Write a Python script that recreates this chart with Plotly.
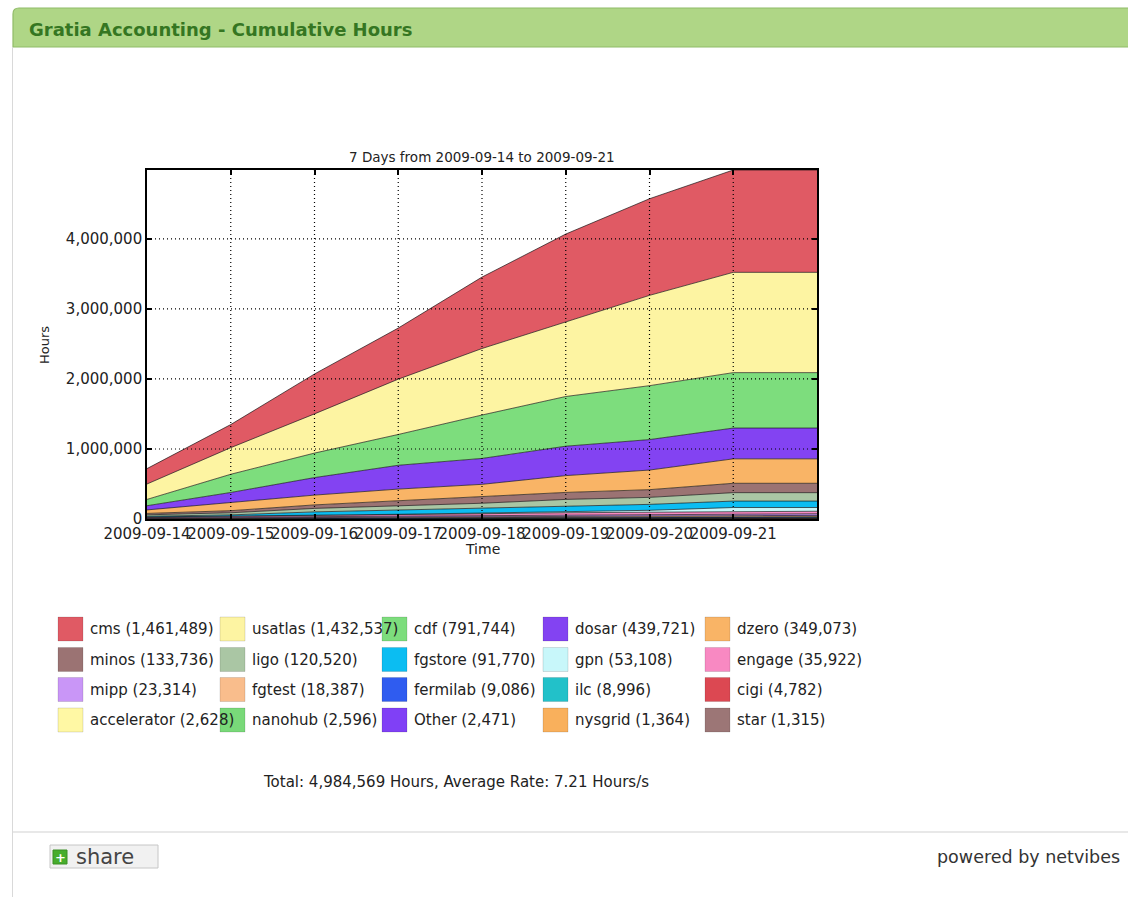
import plotly.graph_objects as go

W, H = 1128, 897

# ---------------- data ----------------
dates = ["2009-09-14", "2009-09-15", "2009-09-16", "2009-09-17", "2009-09-18",
         "2009-09-19", "2009-09-20", "2009-09-21", "2009-09-22"]
tick_dates = dates[:8]
y_ticks = [0, 1000000, 2000000, 3000000, 4000000]

names = ["cms", "usatlas", "cdf", "dosar", "dzero",
         "minos", "ligo", "fgstore", "gpn", "engage",
         "mipp", "fgtest", "fermilab", "ilc", "cigi",
         "accelerator", "nanohub", "Other", "nysgrid", "star"]
totals = [1461489, 1432537, 791744, 439721, 349073,
          133736, 120520, 91770, 53108, 35922,
          23314, 18387, 9086, 8996, 4782,
          2628, 2596, 2471, 1364, 1315]
colors = ["#e05a64", "#fdf4a2", "#7ddd7d", "#8343f2", "#f9b466",
          "#9b7373", "#aac6a4", "#0bbdf2", "#c8f7fa", "#f889c2",
          "#c996f7", "#f9bd8c", "#2f5cf0", "#22c1c9", "#dc4852",
          "#fff8a4", "#79d979", "#8040f6", "#f9b05c", "#9c7676"]

cms = [220000, 330000, 570000, 730000, 1020000, 1250000, 1380000, 1461489, 1461489]
usatlas = [220000, 380000, 560000, 790000, 950000, 1070000, 1290000, 1432537, 1432537]
cdf = [90000, 260000, 350000, 440000, 620000, 710000, 770000, 791744, 791744]
dosar = [60000, 140000, 250000, 340000, 370000, 420000, 435000, 439721, 439721]
dzero = [50000, 120000, 140000, 170000, 180000, 240000, 280000, 349073, 349073]
minos = [20000, 30000, 50000, 70000, 90000, 100000, 110000, 133736, 133736]
ligo = [20000, 30000, 50000, 60000, 70000, 90000, 100000, 120520, 120520]
fgstore = [10000, 20000, 50000, 60000, 70000, 80000, 85000, 91770, 91770]
gpn = [0, 0, 2000, 5000, 10000, 20000, 25000, 53108, 53108]
engage = [10000, 12000, 15000, 20000, 25000, 30000, 32000, 35922, 35922]
mipp = [8000, 10000, 12000, 14000, 16000, 20000, 22000, 23314, 23314]
fgtest = [5000, 6000, 8000, 10000, 12000, 14000, 16000, 18387, 18387]
fermilab = [2000, 3000, 4000, 5000, 6000, 7000, 8000, 9086, 9086]
ilc = [2000, 3000, 4000, 5000, 6000, 7000, 8000, 8996, 8996]
cigi = [1000, 1500, 2000, 2500, 3000, 3500, 4000, 4782, 4782]
accelerator = [500, 1000, 1200, 1500, 1800, 2000, 2300, 2628, 2628]
nanohub = [400, 800, 1000, 1400, 1700, 2000, 2200, 2596, 2596]
other = [400, 800, 1000, 1300, 1600, 1900, 2200, 2471, 2471]
nysgrid = [200, 400, 600, 800, 1000, 1100, 1200, 1364, 1364]
star = [200, 400, 600, 800, 1000, 1100, 1200, 1315, 1315]

series = [cms, usatlas, cdf, dosar, dzero, minos, ligo, fgstore, gpn, engage,
          mipp, fgtest, fermilab, ilc, cigi, accelerator, nanohub, other, nysgrid, star]

TOTAL_HOURS = 4984569
AVG_RATE = 7.21

# ---------------- helpers (pixel -> paper) ----------------
def fx(px):
    return px / W

def fy(py):
    return 1 - py / H

PL, PR, PT, PB = 147, 817, 170, 519
FONT = "DejaVu Sans"

fig = go.Figure()

# stacked areas: bottom first (star) ... top last (cms)
for name, vals, col in reversed(list(zip(names, series, colors))):
    fig.add_trace(go.Scatter(
        x=dates, y=vals, name=name, mode="lines", stackgroup="one",
        fillcolor=col, line=dict(color="rgba(20,20,20,0.85)", width=0.8),
        showlegend=False, hoverinfo="x+y+name"))

shapes = []
annotations = []

# dotted grid above the areas
for d in tick_dates[1:]:
    shapes.append(dict(type="line", xref="x", yref="y domain", x0=d, x1=d, y0=0, y1=1,
                       line=dict(color="black", width=1.2, dash="1px,3px"), layer="above"))
for v in y_ticks[1:]:
    shapes.append(dict(type="line", xref="x domain", yref="y", x0=0, x1=1, y0=v, y1=v,
                       line=dict(color="black", width=1.2, dash="1px,3px"), layer="above"))

# ---- page chrome: header bar ----
r = 6
hx0, hx1, hy0, hy1 = 13, 1132, 8, 47
path = (f"M {fx(hx0)},{fy(hy1)} L {fx(hx0)},{fy(hy0 + r)} "
        f"Q {fx(hx0)},{fy(hy0)} {fx(hx0 + r)},{fy(hy0)} "
        f"L {fx(hx1)},{fy(hy0)} L {fx(hx1)},{fy(hy1)} Z")
shapes.append(dict(type="path", xref="paper", yref="paper", path=path,
                   fillcolor="#afd686", line=dict(color="#90bb68", width=1.2), layer="below"))
annotations.append(dict(x=fx(27), y=fy(30), xref="paper", yref="paper", xanchor="left",
                        yanchor="middle", showarrow=False,
                        text="<b>Gratia Accounting - Cumulative Hours</b>",
                        font=dict(family=FONT, size=18, color="#357622")))
# widget left border
shapes.append(dict(type="line", xref="paper", yref="paper", x0=fx(12.5), x1=fx(12.5),
                   y0=fy(47), y1=fy(897), line=dict(color="#d9d9d9", width=1), layer="below"))
# separator
shapes.append(dict(type="line", xref="paper", yref="paper", x0=fx(13), x1=fx(1128),
                   y0=fy(832), y1=fy(832), line=dict(color="#e8e8e8", width=2), layer="below"))

# share button
shapes.append(dict(type="rect", xref="paper", yref="paper", x0=fx(50), x1=fx(158),
                   y0=fy(868), y1=fy(845), fillcolor="#f1f1f1",
                   line=dict(color="#c6c6c6", width=1), layer="below"))
shapes.append(dict(type="rect", xref="paper", yref="paper", x0=fx(53), x1=fx(67),
                   y0=fy(864), y1=fy(850), fillcolor="#47ad2c",
                   line=dict(color="#3a8f24", width=1), layer="below"))
annotations.append(dict(x=fx(60), y=fy(857), xref="paper", yref="paper", showarrow=False,
                        xanchor="center", yanchor="middle", text="<b>+</b>",
                        font=dict(family=FONT, size=13, color="white")))
annotations.append(dict(x=fx(74), y=fy(857), xref="paper", yref="paper", showarrow=False,
                        xanchor="left", yanchor="middle", text="share",
                        font=dict(family=FONT, size=21, color="#444444")))
annotations.append(dict(x=fx(1122), y=fy(857), xref="paper", yref="paper", showarrow=False,
                        xanchor="right", yanchor="middle", text="powered by netvibes",
                        font=dict(family=FONT, size=17.5, color="#333333")))

# ---- chart texts ----
annotations.append(dict(x=fx((PL + PR) / 2), y=fy(157), xref="paper", yref="paper",
                        showarrow=False, xanchor="center", yanchor="middle",
                        text=f"7 Days from {dates[0]} to {dates[7]}",
                        font=dict(family=FONT, size=13.5, color="#222222")))
annotations.append(dict(x=fx(482), y=fy(549), xref="paper", yref="paper", showarrow=False,
                        xanchor="center", yanchor="middle", text="Time",
                        font=dict(family=FONT, size=14, color="#222222")))
annotations.append(dict(x=fx(45), y=fy(345), xref="paper", yref="paper", showarrow=False,
                        xanchor="center", yanchor="middle", text="Hours", textangle=-90,
                        font=dict(family=FONT, size=13, color="#222222")))
annotations.append(dict(x=fx(456), y=fy(782), xref="paper", yref="paper", showarrow=False,
                        xanchor="center", yanchor="middle",
                        text=f"Total: {TOTAL_HOURS:,} Hours, Average Rate: {AVG_RATE:.2f} Hours/s",
                        font=dict(family=FONT, size=15, color="#222222")))

# ---- legend (grid, row-major, 5 columns) ----
col_sw = [58, 220, 382, 543, 705]
row_c = [629, 659.5, 689.5, 720]
for i, (name, tot, col) in enumerate(zip(names, totals, colors)):
    rr, cc = divmod(i, 5)
    x0 = col_sw[cc]
    yc = row_c[rr]
    shapes.append(dict(type="rect", xref="paper", yref="paper", x0=fx(x0), x1=fx(x0 + 25),
                       y0=fy(yc + 12), y1=fy(yc - 12), fillcolor=col,
                       line=dict(color="rgba(0,0,0,0.12)", width=1), layer="below"))
    annotations.append(dict(x=fx(x0 + 30), y=fy(yc), xref="paper", yref="paper",
                            showarrow=False, xanchor="left", yanchor="middle",
                            text=f"{name} ({tot:,})",
                            font=dict(family=FONT, size=15, color="#222222")))

fig.update_layout(
    width=W, height=H, autosize=False,
    margin=dict(l=0, r=0, t=0, b=0, pad=0, autoexpand=False),
    paper_bgcolor="white", plot_bgcolor="white",
    showlegend=False,
    shapes=shapes, annotations=annotations,
    xaxis=dict(domain=[fx(PL), fx(PR)], type="date", automargin=False,
               range=[dates[0], dates[-1]],
               tickvals=tick_dates, ticktext=tick_dates, tickangle=0,
               ticks="inside", ticklen=5, tickwidth=1.5, tickcolor="black",
               showline=True, linecolor="black", linewidth=1.6, mirror="ticks",
               showgrid=False, zeroline=False, layer="above traces",
               tickfont=dict(family=FONT, size=15, color="#222222")),
    yaxis=dict(domain=[fy(PB), fy(PT)], range=[0, TOTAL_HOURS], automargin=False,
               tickvals=y_ticks, tickformat=",d",
               ticks="inside", ticklen=5, tickwidth=1.5, tickcolor="black",
               showline=True, linecolor="black", linewidth=1.6, mirror="ticks",
               showgrid=False, zeroline=False, layer="above traces",
               tickfont=dict(family=FONT, size=15, color="#222222")),
)

fig.write_html("out.html", config={"displayModeBar": False},
               post_script="document.body.style.margin='0';document.body.style.overflow='hidden';")
